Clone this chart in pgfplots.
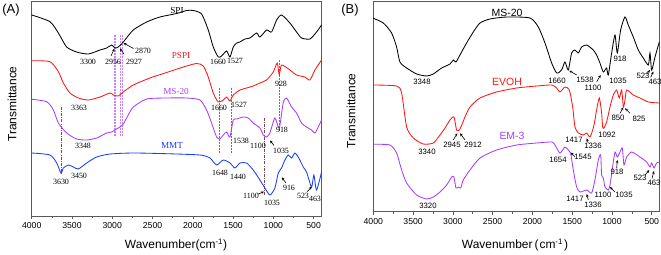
\documentclass[border=0pt]{standalone}
\usepackage{fontspec}
\setmainfont{Liberation Sans}
\newfontfamily\timesf{Liberation Serif}
\usepackage{pgfplots}
\pgfplotsset{compat=1.18}
\usetikzlibrary{arrows.meta}
\definecolor{cviolet}{RGB}{165,60,255}
\definecolor{cblue}{RGB}{25,60,255}
\definecolor{cred}{RGB}{255,20,20}
\definecolor{cframe}{RGB}{90,90,90}
\definecolor{lviolet}{RGB}{205,130,255}
\definecolor{lblue}{RGB}{70,110,255}
\definecolor{cbrown}{RGB}{130,70,80}
\pgfplotsset{ftir/.style={scale only axis, anchor=south west, x dir=reverse,
  xmin=400, xmax=4000, xtick={500,1000,...,4000}, minor x tick num=1,
  ytick=\empty, xtick pos=bottom, tick align=outside,
  major tick length=3bp, minor tick length=2bp,
  tick label style={font=\fontsize{8.7}{10}\selectfont},
  axis line style={cframe, line width=0.6pt}, every tick/.style={cframe, line width=0.6pt},
  scaled x ticks=false,
  /pgf/number format/assume math mode=true, /pgf/number format/1000 sep={},
  every axis plot/.append style={line width=0.85pt, smooth, tension=0.4, no markers},
  clip=false}}
\newcommand\anA[3][black]{\node[text=#1,font=\timesf\fontsize{8}{9}\selectfont,inner sep=0] at (#2) {#3};}
\newcommand\anB[3][black]{\node[text=#1,font=\fontsize{7.8}{9}\selectfont,inner sep=0] at (#2) {#3};}
\tikzset{arr/.style={-{Stealth[length=3bp,width=2.6bp]}, line width=0.6pt, black}}
\begin{document}
\begin{tikzpicture}
\useasboundingbox (0,0) rectangle (661bp,-255bp);
% ---------------- Panel A
\begin{axis}[ftir, at={(31.7bp,-216bp)}, width=290bp, height=215bp, ymin=-216, ymax=-1]
\foreach \w in {2979,2958,2896,2876}{\edef\temp{\noexpand\draw[lviolet, line width=0.5pt, dash pattern=on 2bp off 1bp] (axis cs:\w,-35) -- (axis cs:\w,-137);}\temp}
\draw[lblue, line width=0.6pt, dash pattern=on 2bp off 1bp] (axis cs:1673,-88) -- (axis cs:1673,-153);
\draw[lblue, line width=0.6pt, dash pattern=on 2bp off 1bp] (axis cs:1527,-88) -- (axis cs:1527,-153);
\draw[lblue, line width=0.6pt, dash pattern=on 2bp off 1bp] (axis cs:931,-60) -- (axis cs:931,-132);
\draw[cbrown, line width=0.6pt, dash pattern=on 3bp off 1.2bp on 0.8bp off 1.2bp] (axis cs:3636,-107) -- (axis cs:3636,-175);
\draw[cbrown, line width=0.6pt, dash pattern=on 3bp off 1.2bp on 0.8bp off 1.2bp] (axis cs:1113,-118) -- (axis cs:1113,-195);
% SPI
\addplot[black] coordinates {(4000,-15) (3773,-21.7) (3669,-33) (3566,-47) (3442,-52) (3297,-54) (3152,-50) (3069,-48) (3007,-45) (2966,-48) (2925,-47) (2863,-42) (2739,-30) (2573,-22) (2408,-17) (2201,-13.5) (2077,-10.5) (1994,-10.5) (1891,-14) (1808,-30) (1746,-47) (1684,-57) (1643,-56) (1580,-51) (1539,-57) (1498,-47) (1456,-43) (1415,-42) (1353,-39) (1291,-38) (1208,-33) (1167,-37) (1084,-30) (1022,-32) (960,-20) (898,-15) (795,-23) (712,-32) (650,-38) (546,-39) (464,-32) (402,-25)};
% PSPI
\addplot[cred] coordinates {(4000,-60.7) (3773,-61.7) (3669,-71.7) (3607,-83) (3524,-93) (3421,-98) (3297,-100) (3152,-97) (3028,-93) (2987,-95) (2925,-96) (2863,-92) (2739,-85) (2532,-78) (2325,-72.5) (2118,-67) (1953,-63.5) (1870,-66) (1808,-77) (1746,-93) (1684,-102) (1622,-100) (1580,-97) (1539,-101) (1498,-95) (1415,-90) (1332,-88) (1250,-86) (1167,-83) (1084,-80) (1001,-72) (952,-63) (927,-75) (898,-65) (795,-70) (712,-75) (609,-77) (546,-80) (484,-70) (402,-60)};
% MS-20
\addplot[cviolet] coordinates {(4000,-99.3) (3814,-101.7) (3731,-110) (3669,-123) (3566,-133) (3442,-139) (3318,-140) (3193,-138) (3069,-133) (3007,-132) (2966,-130) (2904,-127) (2863,-124) (2801,-115) (2739,-107) (2573,-99) (2325,-98) (2077,-98) (1911,-100) (1829,-110) (1767,-123) (1705,-137) (1663,-139) (1622,-135) (1580,-132) (1539,-137) (1498,-120) (1456,-119) (1374,-117) (1312,-118) (1250,-123) (1167,-128) (1125,-135) (1084,-137) (1043,-133) (981,-118) (927,-128) (878,-103) (836,-98) (774,-107) (712,-113) (650,-123) (588,-127) (526,-130) (484,-133) (443,-127) (402,-120)};
% MMT
\addplot[cblue] coordinates {(4000,-153) (3773,-155) (3690,-163) (3636,-173) (3607,-168) (3545,-165) (3483,-167) (3421,-169) (3318,-163) (3193,-157) (3028,-154) (2739,-153) (2325,-153.7) (1911,-155) (1787,-158) (1705,-165) (1622,-160) (1539,-163) (1477,-168) (1415,-163) (1332,-163) (1250,-170) (1167,-180) (1105,-188) (1043,-195) (981,-188) (939,-173) (898,-168) (857,-160) (815,-155) (774,-158) (733,-153) (691,-157) (629,-167) (588,-172) (526,-187) (497,-175) (464,-190) (402,-172)};
\end{axis}
% ---------------- Panel B
\begin{axis}[ftir, at={(373.3bp,-211.7bp)}, width=286.4bp, height=210.7bp, ymin=-211.7, ymax=-1]
% MS-20
\addplot[black] coordinates {(4000,-18.3) (3874,-23) (3770,-33) (3707,-47) (3665,-62) (3581,-68) (3455,-74) (3330,-76) (3246,-74) (3141,-68) (3036,-64) (2994,-60) (2961,-62) (2911,-55) (2827,-43) (2743,-32) (2659,-23) (2534,-19) (2324,-17) (2031,-18) (1926,-27) (1842,-43) (1758,-63) (1695,-73) (1633,-70) (1591,-62) (1549,-70) (1507,-53) (1465,-50) (1423,-53) (1381,-47) (1318,-45) (1235,-50) (1193,-55) (1151,-63) (1109,-72) (1067,-68) (1046,-75) (1004,-53) (962,-35) (933,-53) (891,-30) (837,-17) (795,-25) (732,-37) (669,-50) (606,-58) (543,-65) (522,-53) (501,-70) (459,-57) (405,-42)};
% EVOH
\addplot[cred] coordinates {(4000,-85) (3707,-86) (3644,-93) (3581,-127) (3497,-138) (3372,-144) (3246,-143) (3162,-135) (3099,-128) (3036,-120) (2986,-117) (2953,-130) (2919,-130) (2877,-123) (2848,-117) (2785,-107) (2659,-98) (2450,-92) (2198,-88) (1947,-86) (1758,-85) (1695,-88) (1654,-92) (1591,-87) (1536,-90) (1494,-107) (1465,-127) (1423,-133) (1360,-135) (1318,-133) (1276,-137) (1235,-128) (1214,-120) (1193,-110) (1159,-98) (1130,-113) (1117,-127) (1101,-128) (1067,-122) (1025,-107) (983,-95) (941,-90) (908,-98) (878,-90) (857,-107) (836,-100) (815,-90) (732,-95) (648,-98) (543,-102) (405,-103)};
% EM-3
\addplot[cviolet] coordinates {(4000,-144.3) (3791,-145) (3707,-153) (3644,-170) (3581,-183) (3455,-195) (3330,-199) (3246,-197) (3162,-192) (3078,-185) (3015,-177) (2986,-177) (2961,-188) (2932,-187) (2902,-188) (2869,-180) (2785,-170) (2659,-158) (2450,-150) (2198,-145) (1947,-143) (1758,-142) (1716,-145) (1654,-153) (1591,-147) (1549,-150) (1520,-153) (1486,-170) (1444,-187) (1402,-192) (1318,-190) (1256,-193) (1214,-180) (1172,-160) (1142,-155) (1130,-175) (1109,-178) (1088,-187) (1046,-190) (1025,-185) (992,-167) (962,-152) (933,-157) (899,-152) (870,-148) (849,-165) (815,-157) (753,-152) (648,-157) (564,-162) (522,-167) (501,-163) (472,-168) (439,-163) (405,-162)};
\end{axis}
% ---------------- annotations (pixel coordinates)
\begin{scope}[x=1bp,y=-1bp]
\node[font=\fontsize{13}{15}\selectfont,inner sep=0] at (11,10) {(A)};
\node[font=\fontsize{13}{15}\selectfont,inner sep=0] at (350,10) {(B)};
\node[font=\fontsize{12}{14}\selectfont,inner sep=0,rotate=90] at (12,104) {Transmittance};
\node[font=\fontsize{12}{14}\selectfont,inner sep=0,rotate=90] at (351,111) {Transmittance};
\node[font=\fontsize{12}{14}\selectfont,inner sep=0] at (176,245) {Wavenumber(cm\textsuperscript{-1})};
\node[font=\fontsize{12}{14}\selectfont,inner sep=0] at (515,245) {Wavenumber\hspace{2pt}(\hspace{1pt}cm\textsuperscript{-1}\hspace{1pt})};
% panel A texts
\node[font=\timesf\fontsize{9.2}{11}\selectfont,inner sep=0] at (177,10.5) {SPI};
\node[text=cred,font=\timesf\fontsize{9.2}{11}\selectfont,inner sep=0] at (181,56) {PSPI};
\node[text=cviolet,font=\timesf\fontsize{9.2}{11}\selectfont,inner sep=0] at (176,91.5) {MS-20};
\node[text=cblue,font=\timesf\fontsize{9.2}{11}\selectfont,inner sep=0] at (172,145) {MMT};
\anA{88,62}{3300}
\anA{113,62}{2956}
\anA{134,62}{2927}
\anA{143,51}{2870}
\anA{218,62}{1660}
\anA{235,61}{1527}
\anA{281,84}{928}
\anA{79,108}{3363}
\anA{219,108}{1660}
\anA{239,105}{1527}
\anA{282,130}{918}
\anA{83,146}{3348}
\anA{241,141}{1538}
\anA{258,146}{1100}
\anA{281,151}{1035}
\anA{61,182}{3630}
\anA{79,176}{3450}
\anA{220,173}{1648}
\anA{238,177}{1440}
\anA{289,188}{916}
\anA{251,196}{1100}
\anA{272,203}{1035}
\anA{303,196}{523}
\anA{315,199}{463}
\draw[arr] (111,56) -- (114.5,48.5);
\draw[arr] (124,54) -- (120,48.5);
\draw[arr] (133.5,48.5) -- (123.5,43);
\draw[arr] (274,145.5) -- (270,140.5);
\draw[arr] (286,183) -- (281.7,177.3);
\draw[arr] (258.3,194) -- (264,191.7);
\draw[arr] (307.3,191.7) -- (311.7,186.7);
% panel B texts
\node[font=\fontsize{10.5}{12}\selectfont,inner sep=0] at (507,12.5) {MS-20};
\node[text=cred,font=\fontsize{10.5}{12}\selectfont,inner sep=0] at (507,82) {EVOH};
\node[text=cviolet,font=\fontsize{10.5}{12}\selectfont,inner sep=0] at (512,136) {EM-3};
\anB{422,82}{3348}
\anB{557,81}{1660}
\anB{585,80}{1538}
\anB{593,88}{1100}
\anB{618,81}{1035}
\anB{620,59}{918}
\anB{643,76}{523}
\anB{655,82}{463}
\anB{618,118}{850}
\anB{639,119}{825}
\anB{427,152}{3340}
\anB{452,145}{2945}
\anB{473,145}{2912}
\anB{574,140}{1417}
\anB{593,146}{1336}
\anB{607,135}{1092}
\anB{428,206}{3320}
\anB{558,160}{1654}
\anB{583,157}{1545}
\anB{575,199}{1417}
\anB{593,205}{1336}
\anB{603,195}{1100}
\anB{624,195}{1035}
\anB{617,172}{918}
\anB{640,178}{523}
\anB{654,183}{463}
\draw[arr] (576.7,75) -- (569.3,70.7);
\draw[arr] (596.7,81.7) -- (600.7,75);
\draw[arr] (646.7,74) -- (650,70);
\draw[arr] (650.7,77.3) -- (653.3,71.7);
\draw[arr] (620,113.3) -- (623.3,107.3);
\draw[arr] (630,113.3) -- (625,108.3);
\draw[arr] (453.3,140) -- (457.3,133.3);
\draw[arr] (465,140) -- (460,133.3);
\draw[arr] (588.3,143.3) -- (586.7,138.3);
\draw[arr] (575,156.7) -- (570.7,152.7);
\draw[arr] (616.7,168) -- (617.3,160);
\draw[arr] (645,175) -- (649.3,170);
\draw[arr] (652,178.5) -- (654,171);
\draw[arr] (588.3,200) -- (586.7,194);
\draw[arr] (615,192) -- (610,187);
\end{scope}
\end{tikzpicture}
\end{document}
